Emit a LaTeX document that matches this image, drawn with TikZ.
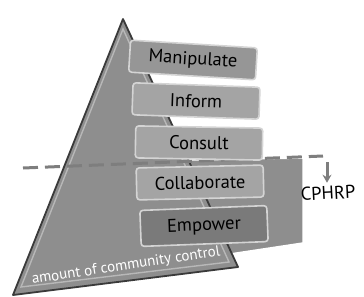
\documentclass[tikz,border=0pt]{standalone}
\usepackage{fontspec}
\setmainfont{PT Sans}
\usetikzlibrary{arrows.meta, positioning}
\definecolor{cdark}{HTML}{3A3A3A}
\definecolor{cmid}{HTML}{8E8E8E}
\definecolor{cbox}{HTML}{A4A4A4}
\definecolor{cdeep}{HTML}{7A7A7A}
\definecolor{crim}{HTML}{D4D4D4}
\definecolor{cgrey}{HTML}{7E7E7E}
\tikzset{
  every picture/.style={x=1pt, y=-1pt, line width=1.2pt},
  level/.style={draw=crim, fill=#1, rounded corners=3pt, line width=1.6pt, minimum width=127pt, minimum height=32pt, inner sep=0pt, font=\fontsize{18.5}{18.5}\selectfont},
  level/.default=cbox,
  downarrow/.style={-{Stealth[length=8pt, width=9pt]}, draw=cgrey, line width=3pt},
  divider/.style={draw=cgrey, line width=3pt, dash pattern=on 15pt off 7pt},
  note/.style={font=\fontsize{18.5}{18.5}\selectfont, text=black, inner sep=1pt},
}

\begin{document}
\begin{tikzpicture}
  \useasboundingbox (0,0) rectangle (364,297);
  % CPHRP panel behind the pyramid
  \draw[fill=cmid, draw=white, line width=1.5pt] (190,160) -- (303,158) -- (303,243) -- (230,254) -- (190,254) -- cycle;
  % pyramid
  \draw[fill=cmid, draw=cdark, line width=1.8pt, line join=round] (123,19) -- (238,267) -- (13,295) -- cycle;
  \draw[draw=crim!60!cmid, line width=1.4pt] (123,29) -- (229,262) -- (21,287) -- cycle;
  \node[rotate=8.6, text=white, font=\fontsize{15}{15}\selectfont] (base) at (126,266) {amount of community control};
  % threshold line
  \draw[divider] (23,168) -- (323,156);
  % ladder of levels
  \node[level=cbox!115, rotate=-3.5] (manip) at (193,60) {Manipulate};
  \node[level, rotate=-2] (inform) at (196,101) {Inform};
  \node[level, rotate=-1] (consult) at (199,143) {Consult};
  \node[level, rotate=1.3] (collab) at (200,182.5) {Collaborate};
  \node[level=cdeep, rotate=2.2, minimum height=36pt] (empower) at (204,226) {Empower};
  % label of the panel
  \node[note, rotate=3] (cphrp) at (328,193) {CPHRP};
  \coordinate (atop) at (327,162);
  \draw[downarrow, shorten >=2pt] (atop) -- (atop |- cphrp.north);
\end{tikzpicture}
\end{document}
